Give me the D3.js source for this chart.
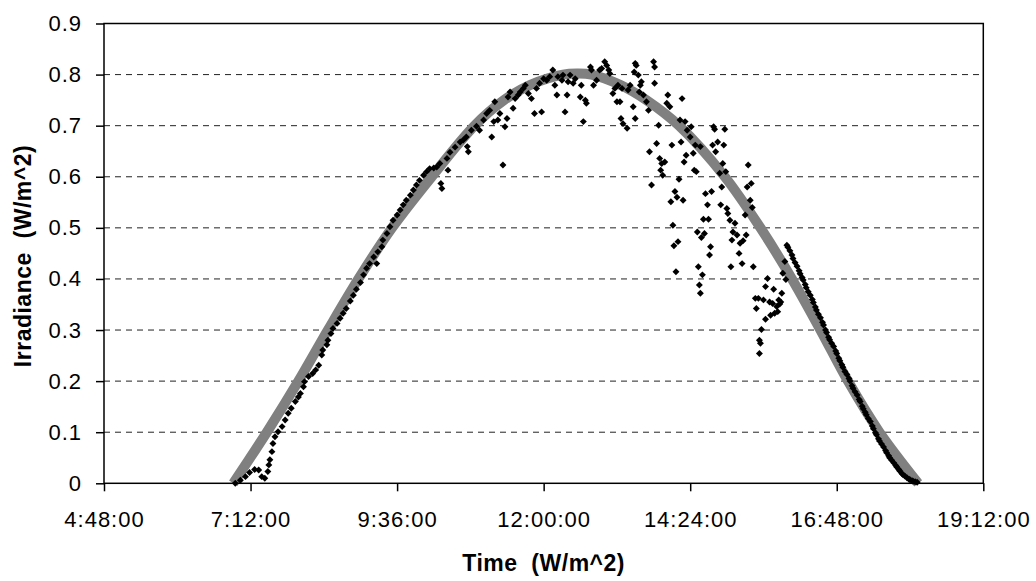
<!DOCTYPE html>
<html>
<head>
<meta charset="utf-8">
<script src="https://cdn.jsdelivr.net/npm/d3@7"></script>
<style>
body{margin:0;background:#fff;}
svg{display:block;font-family:"Liberation Sans",Arial,sans-serif;}
</style>
</head>
<body>
<svg id="chart" width="1036" height="581"></svg>
<script>
// clear sky curve: minutes after midnight / irradiance
var modelTime = [415,448,479,508,538,571,610,652,681,707,739,753,767,795,821,853,898,933,964,992,1019,1050,1088];
var modelValue = [0,0.1,0.2,0.3,0.4,0.5,0.6,0.7,0.75,0.78,0.8,0.802,0.8,0.78,0.75,0.7,0.6,0.5,0.4,0.3,0.2,0.1,0];

// measured, morning rise [minute, value]
var morning = [[417,0.000],[422,0.006],[427,0.013],[431,0.021],[436,0.027],[440,0.026],[443,0.013],[446,0.010],[449,0.023],[450,0.036],
[451,0.046],[453,0.062],[454,0.078],[456,0.091],[459,0.101],[463,0.111],[466,0.124],[469,0.137],[472,0.147],[476,0.160],
[479,0.169],[481,0.176],[484,0.189],[485,0.199],[489,0.209],[493,0.215],[496,0.222],[499,0.231],[502,0.251],[503,0.261],
[507,0.271],[508,0.280],[511,0.293],[513,0.303],[517,0.313],[520,0.323],[523,0.333],[526,0.342],[530,0.357],[533,0.368],
[536,0.380],[540,0.393],[543,0.408],[546,0.421],[549,0.430],[553,0.443],[556,0.430],[557,0.453],[561,0.463],[562,0.476],
[566,0.489],[569,0.502],[572,0.515],[576,0.525],[579,0.535],[582,0.545],[585,0.554],[589,0.564],[592,0.574],[595,0.584],
[598,0.593],[602,0.603],[605,0.610],[608,0.616],[612,0.617],[615,0.619],[618,0.626],[619,0.587],[620,0.577],[625,0.636],
[626,0.613],[628,0.648],[633,0.658],[638,0.668],[641,0.672],[644,0.678],[645,0.659],[646,0.649],[649,0.691],[654,0.699],
[657,0.691],[661,0.711],[664,0.724],[667,0.730],[669,0.678],[671,0.708],[672,0.747],[675,0.711],[677,0.724]];

// measured, cloudy midday
var midday = [[680,0.623],[682,0.698],[684,0.714],[685,0.756],[687,0.766],[690,0.734],[692,0.753],[695,0.760],[697,0.766],[700,0.773],
[702,0.779],[705,0.763],[708,0.753],[711,0.724],[713,0.773],[716,0.783],[718,0.727],[720,0.792],[723,0.789],[726,0.796],
[729,0.809],[731,0.779],[733,0.760],[734,0.796],[738,0.789],[739,0.799],[741,0.727],[743,0.760],[744,0.786],[746,0.799],
[749,0.783],[751,0.792],[756,0.756],[757,0.779],[759,0.708],[761,0.750],[762,0.744],[766,0.815],[767,0.809],[769,0.779],
[772,0.789],[775,0.809],[777,0.812],[780,0.825],[782,0.818],[784,0.809],[785,0.802],[788,0.763],[790,0.773],[792,0.747],
[793,0.779],[795,0.747],[797,0.773],[796,0.714],[798,0.704],[802,0.695],[803,0.770],[805,0.779],[808,0.737],[809,0.805],
[810,0.822],[811,0.818],[813,0.799],[815,0.779],[814,0.766],[810,0.714],[816,0.786],[818,0.760],[821,0.747],[823,0.730],
[828,0.825],[829,0.815],[829,0.783],[824,0.649],[831,0.665],[834,0.636],[836,0.626],[839,0.629],[841,0.744],[842,0.760],
[844,0.737],[837,0.603],[846,0.662],[856,0.753],[854,0.711],[859,0.708],[861,0.691],[865,0.698],[864,0.678],[855,0.668],
[860,0.642],[858,0.629],[867,0.646],[869,0.662],[868,0.613],[833,0.701],[835,0.613],[826,0.584],[853,0.595],[849,0.571],
[851,0.560],[845,0.551],[857,0.554],[847,0.505],[852,0.473],[848,0.465],[850,0.414],[870,0.610],[874,0.659],[887,0.698],
[888,0.693],[898,0.693],[886,0.662],[891,0.668],[889,0.649],[897,0.662],[896,0.626],[893,0.607],[899,0.610],[895,0.580],
[921,0.623],[924,0.587],[920,0.580],[923,0.554],[925,0.540],[918,0.525],[879,0.567],[885,0.571],[881,0.545],[877,0.517],
[882,0.517],[871,0.492],[875,0.481],[878,0.489],[884,0.463],[883,0.447],[872,0.424],[876,0.408],[873,0.388],[874,0.372],
[894,0.545],[900,0.538],[901,0.528],[903,0.515],[908,0.509],[906,0.492],[910,0.486],[905,0.476],[913,0.470],[916,0.475],
[919,0.486],[912,0.450],[915,0.430],[904,0.424],[926,0.424],[957,0.434],[955,0.411],[958,0.399],[940,0.401],[938,0.385],
[946,0.380],[954,0.372],[928,0.362],[931,0.362],[936,0.359],[942,0.355],[945,0.352],[951,0.359],[952,0.351],[929,0.342],
[949,0.346],[950,0.336],[947,0.333],[943,0.329],[938,0.321],[934,0.301],[932,0.280],[933,0.274],[932,0.254],[953,0.355]];

// measured, evening fall
var evening = [[959,0.466],[960,0.462],[962,0.455],[964,0.447],[965,0.440],[967,0.432],[969,0.425],[971,0.416],[972,0.410],[974,0.403],
[975,0.398],[977,0.389],[978,0.383],[980,0.375],[982,0.368],[984,0.360],[985,0.354],[987,0.345],[988,0.339],[990,0.331],
[992,0.324],[994,0.315],[995,0.310],[997,0.300],[998,0.295],[1000,0.286],[1001,0.281],[1003,0.274],[1005,0.268],[1007,0.259],
[1008,0.254],[1010,0.245],[1011,0.240],[1013,0.232],[1014,0.227],[1016,0.219],[1018,0.213],[1020,0.205],[1021,0.200],[1023,0.191],
[1024,0.186],[1026,0.179],[1028,0.173],[1030,0.164],[1031,0.160],[1033,0.151],[1034,0.146],[1036,0.139],[1037,0.134],[1039,0.127],
[1041,0.121],[1043,0.112],[1044,0.107],[1046,0.099],[1047,0.095],[1049,0.087],[1050,0.083],[1052,0.077],[1054,0.071],[1056,0.064],
[1057,0.060],[1059,0.054],[1060,0.050],[1062,0.045],[1064,0.040],[1066,0.035],[1067,0.032],[1069,0.027],[1070,0.024],[1072,0.019],
[1073,0.017],[1075,0.014],[1077,0.011],[1079,0.008],[1080,0.007],[1082,0.005],[1083,0.004],[1085,0.003],[1087,0.002]];

var xTicks = [288,432,576,720,864,1008,1152];
var yTicks = [0,0.1,0.2,0.3,0.4,0.5,0.6,0.7,0.8,0.9];

var svg = d3.select('#chart');
var width = +svg.attr('width'), height = +svg.attr('height');
var margin = {left:104,right:52.7,top:23.5,bottom:97.7};
var innerwidth = width - margin.left - margin.right;
var innerheight = height - margin.top - margin.bottom;

var xscale = d3.scaleLinear().domain([288,1152]).range([0,innerwidth]);
var yscale = d3.scaleLinear().domain([0,0.9]).range([innerheight,0]);

function fmtTime(m){
	var h = Math.floor(m/60), mm = m % 60;
	return h + ':' + (mm < 10 ? '0' : '') + mm + ':00';
}

var g = svg.append('g').attr('transform',`translate(${margin.left},${margin.top})`);

// dashed grid
g.append('g').selectAll('line').data(yTicks.filter(d => d > 0 && d < 0.9))
	.enter().append('line')
	.attr('x1',0).attr('x2',innerwidth)
	.attr('y1',d => yscale(d)).attr('y2',d => yscale(d))
	.attr('stroke','#222').attr('stroke-width',1)
	.attr('stroke-dasharray','6,5');

// model curve
var line = d3.line()
	.x(d => xscale(d[0]))
	.y(d => yscale(d[1]))
	.curve(d3.curveCatmullRom.alpha(0.5));
g.append('path')
	.datum(d3.zip(modelTime,modelValue))
	.attr('d',line)
	.attr('fill','none')
	.attr('stroke','#808080')
	.attr('stroke-width',10);

// measured points as diamonds
var diamond = d3.symbol().type(d3.symbolSquare).size(24);
g.append('g').selectAll('path').data(morning.concat(midday,evening))
	.enter().append('path')
	.attr('d',diamond)
	.attr('transform',d => `translate(${xscale(d[0])},${yscale(d[1])}) rotate(45)`)
	.attr('fill','#000');

// axes
var xaxis = d3.axisBottom(xscale).tickValues(xTicks).tickFormat(fmtTime)
	.tickSize(8).tickPadding(20).tickSizeOuter(0);
var yaxis = d3.axisLeft(yscale).tickValues(yTicks)
	.tickFormat(d => d === 0 ? '0' : d.toFixed(1))
	.tickSize(8).tickPadding(14).tickSizeOuter(0);

var xg = g.append('g').attr('transform',`translate(0,${innerheight})`).call(xaxis);
var yg = g.append('g').call(yaxis);
[xg,yg].forEach(function(a){
	a.select('.domain').remove();
	a.attr('font-size',22).attr('font-family','"Liberation Sans",Arial,sans-serif');
	a.selectAll('line').attr('stroke','#000').attr('stroke-width',1.5);
	a.selectAll('text').attr('fill','#000').style('letter-spacing','1px');
});

// frame
g.append('rect')
	.attr('width',innerwidth).attr('height',innerheight)
	.attr('fill','none').attr('stroke','#000').attr('stroke-width',1.5);

// titles
svg.append('text')
	.attr('x',margin.left + innerwidth/2).attr('y',571)
	.attr('text-anchor','middle')
	.attr('font-size',23).attr('font-weight','bold')
	.style('white-space','pre').style('letter-spacing','0.5px')
	.text('Time  (W/m^2)');

svg.append('text')
	.attr('transform','translate(31,256) rotate(-90)')
	.attr('text-anchor','middle')
	.attr('font-size',23).attr('font-weight','bold')
	.style('white-space','pre').style('letter-spacing','0.5px')
	.text('Irradiance  (W/m^2)');
</script>
</body>
</html>
